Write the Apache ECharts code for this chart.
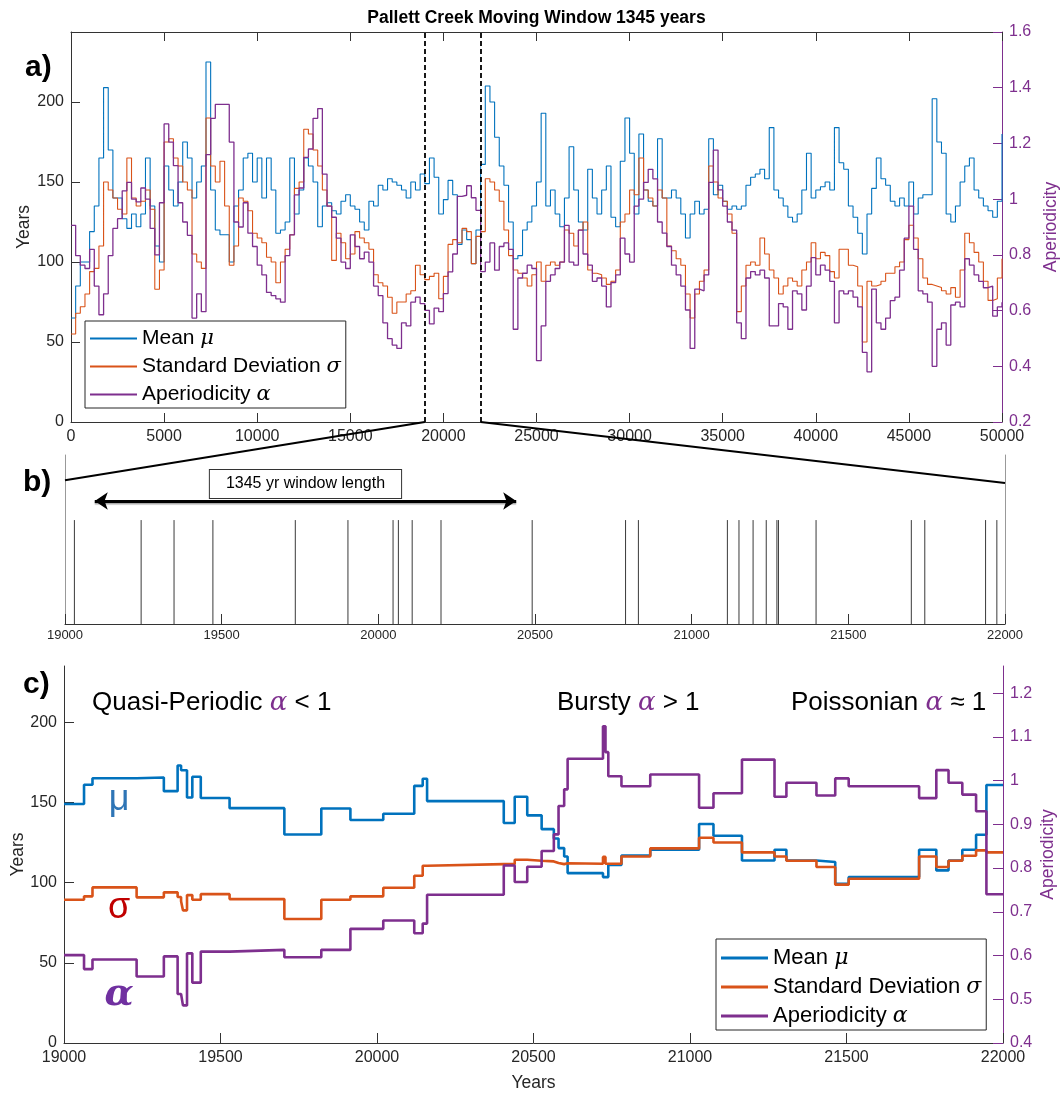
<!DOCTYPE html>
<html>
<head>
<meta charset="utf-8">
<script src="https://cdn.jsdelivr.net/npm/echarts/dist/echarts.min.js"></script>
<style>
  html, body { margin: 0; padding: 0; background: #fff; }
  #chart { width: 1061px; height: 1094px; }
</style>
</head>
<body>
<div id="chart"></div>
<script>
// ---------- Panel a: moving-window statistics over the whole record (one value every 250 yr) ----------
const aStartYear = 0;
const aStepYears = 250;
const aMean = [65, 85, 100, 100, 119, 135, 165, 209, 170, 140,
  140, 127, 121, 130, 122, 130, 165, 135, 110, 100,
  160, 145, 135, 150, 175, 165, 140, 150, 160, 225,
  145, 120, 117, 117, 100, 135, 145, 165, 168, 150,
  165, 140, 165, 145, 118, 120, 125, 165, 130, 145,
  165, 160, 150, 122, 135, 137, 132, 130, 138, 142,
  135, 133, 125, 120, 138, 135, 148, 145, 152, 150,
  148, 145, 140, 150, 145, 155, 149, 165, 153, 130,
  139, 151, 142, 111, 120, 114, 99, 120, 161, 210,
  200, 178, 160, 148, 125, 102, 104, 120, 125, 135,
  150, 193, 135, 145, 130, 122, 140, 172, 145, 125,
  120, 158, 140, 130, 145, 160, 128, 122, 163, 190,
  168, 130, 180, 145, 138, 135, 177, 140, 140, 145,
  140, 130, 115, 130, 138, 130, 133, 177, 142, 148,
  138, 133, 135, 133, 135, 148, 153, 155, 158, 152,
  184, 145, 140, 135, 128, 125, 130, 145, 168, 140,
  145, 147, 150, 145, 184, 162, 158, 135, 128, 118,
  105, 130, 146, 165, 152, 148, 138, 135, 140, 135,
  150, 130, 140, 142, 142, 202, 175, 168, 130, 125,
  135, 150, 160, 165, 145, 140, 135, 132, 128, 138,
  180];
const aStd = [55, 68, 72, 80, 94, 96, 110, 150, 145, 140,
  133, 130, 165, 140, 135, 138, 145, 133, 83, 95,
  175, 177, 165, 160, 150, 145, 105, 100, 96, 190,
  160, 150, 163, 135, 98, 110, 140, 138, 132, 118,
  115, 112, 103, 100, 87, 100, 108, 117, 146, 150,
  183, 180, 170, 160, 145, 135, 101, 118, 112, 102,
  105, 119, 115, 112, 108, 92, 87, 85, 78, 68,
  75, 75, 80, 82, 98, 92, 89, 91, 93, 77,
  91, 111, 114, 112, 121, 119, 99, 116, 119, 152,
  150, 145, 138, 120, 104, 95, 93, 90, 85, 92,
  100, 88, 98, 100, 98, 100, 120, 118, 110, 120,
  125, 95, 93, 92, 90, 86, 88, 95, 125, 130,
  145, 142, 165, 145, 140, 135, 145, 140, 110, 107,
  102, 98, 80, 65, 80, 88, 95, 160, 150, 140,
  138, 130, 118, 69, 85, 98, 100, 98, 115, 105,
  95, 90, 80, 85, 90, 88, 85, 95, 100, 112,
  102, 106, 104, 94, 90, 108, 108, 98, 97, 85,
  50, 88, 85, 86, 88, 93, 93, 97, 100, 114,
  123, 115, 102, 90, 86, 85, 84, 82, 80, 84,
  78, 95, 118, 112, 106, 100, 88, 76, 77, 90,
  102];
const aAlpha = [0.906, 0.797, 0.763, 0.751, 0.82, 0.688, 0.585, 0.66, 0.797, 0.895,
  0.93, 1.03, 1.06, 1.0, 0.99, 1.04, 1.0, 0.895, 0.8, 0.987,
  1.27, 1.205, 1.12, 0.987, 0.918, 0.87, 0.573, 0.66, 0.596, 1.16,
  1.29, 1.34, 1.34, 1.34, 1.205, 0.918, 0.9, 0.987, 0.878, 0.83,
  0.763, 0.728, 0.665, 0.654, 0.642, 0.63, 0.797, 0.872, 1.015, 1.04,
  1.15, 1.18, 1.29, 1.325, 1.09, 0.975, 0.935, 0.86, 0.774, 0.751,
  0.872, 0.83, 0.786, 0.81, 0.774, 0.688, 0.654, 0.556, 0.499, 0.476,
  0.464, 0.556, 0.545, 0.63, 0.648, 0.625, 0.601, 0.552, 0.609, 0.596,
  0.661, 0.739, 0.803, 1.01, 1.014, 1.048, 1.005, 0.96, 0.74, 0.774,
  0.843, 0.745, 0.83, 0.843, 0.82, 0.533, 0.717, 0.734, 0.763, 0.751,
  0.42, 0.545, 0.705, 0.728, 0.751, 0.774, 0.906, 0.774, 0.763, 0.889,
  0.803, 0.763, 0.705, 0.717, 0.688, 0.613, 0.7, 0.728, 0.86, 0.803,
  0.774, 0.975, 1.0, 1.06, 1.107, 1.073, 0.918, 0.878, 0.83, 0.763,
  0.728, 0.688, 0.602, 0.464, 0.677, 0.671, 0.728, 1.06, 1.176, 1.033,
  0.975, 0.918, 0.889, 0.556, 0.499, 0.717, 0.74, 0.728, 0.745, 0.717,
  0.545, 0.545, 0.625, 0.613, 0.533, 0.671, 0.66, 0.602, 0.688, 0.79,
  0.728, 0.763, 0.745, 0.705, 0.556, 0.671, 0.66, 0.671, 0.648, 0.613,
  0.45, 0.38, 0.677, 0.556, 0.533, 0.573, 0.636, 0.648, 0.745, 0.86,
  0.975, 0.82, 0.671, 0.66, 0.63, 0.4, 0.533, 0.556, 0.476, 0.62,
  0.63, 0.613, 0.786, 0.763, 0.728, 0.705, 0.682, 0.688, 0.58, 0.613,
  0.63];

// ---------- Window examined in panels b and c ----------
const windowStart = 19000;
const windowEnd = 22000;
const windowLengthYears = 1345;
const arrowStartYear = 19095;

// ---------- Panel b: event dates inside the window ----------
const events = [19030, 19243, 19348, 19472, 19735, 19903, 20047, 20064, 20108, 20200,
  20491, 20789, 20830, 21114, 21151, 21196, 21238, 21272, 21277, 21397,
  21701, 21744, 21938, 21974];

// ---------- Panel c: statistics at each change point (held until the next one) ----------
const cYears = [19000, 19064, 19091, 19232, 19319, 19363, 19374, 19380, 19393, 19410,
  19437, 19529, 19704, 19822, 19915, 20020, 20119, 20146, 20160, 20405,
  20440, 20480, 20526, 20565, 20580, 20598, 20609, 20722, 20730, 20739,
  20781, 20873, 21029, 21075, 21166, 21270, 21308, 21404, 21464, 21507,
  21732, 21787, 21826, 21870, 21914, 21947, 22000];
const cMean = [149, 161, 165, 165.5, 157, 173, 170, 170, 153, 166,
  152.7, 146.4, 130, 146.2, 139, 142.9, 160.3, 164.7, 150.8, 137.1,
  153.5, 141.9, 133.3, 127.5, 121.5, 116.3, 105.9, 103.4, 103.4, 111,
  116.9, 120.5, 136.5, 129.2, 113.8, 120.5, 113.8, 112.8, 99.3, 103.4,
  120.5, 107.6, 113.8, 120.5, 129.8, 160.8, 160.8];
const cStd = [89.3, 91.4, 97.0, 90.8, 93.9, 91.0, 88.3, 82.7, 92.2, 89.3,
  92.8, 89.7, 77.3, 89.3, 91.4, 96.8, 104.3, 110.5, 111.5, 111.5,
  114.2, 113.6, 113.2, 112.2, 111.5, 112.0, 111.7, 116.0, 111.7, 111.7,
  116.3, 121.3, 127.9, 125.0, 118.8, 116.3, 113.6, 109.7, 98.7, 102.4,
  116.3, 109.7, 113.6, 116.7, 120.1, 118.8, 118.8];
const cAlpha = [0.601, 0.569, 0.591, 0.552, 0.598, 0.512, 0.512, 0.486, 0.605, 0.538,
  0.609, 0.613, 0.596, 0.613, 0.661, 0.680, 0.651, 0.673, 0.739, 0.806,
  0.768, 0.803, 0.839, 0.877, 0.942, 0.980, 1.050, 1.124, 1.065, 1.010,
  0.987, 1.014, 0.938, 0.971, 1.048, 0.963, 0.995, 0.966, 1.005, 0.987,
  0.960, 1.024, 0.995, 0.968, 0.930, 0.740, 0.740];

// ---------- Styling ----------
const SANS = "'Liberation Sans', Arial, Helvetica, sans-serif";
const GREEK = "'DejaVu Serif', 'Liberation Serif', serif";
const BLUE = '#0072BD', ORANGE = '#D95319', PURPLE = '#7E2F8E';
const TXT = '#262626', AXIS_LINE = '#333333';
const EVENT_TOP = 0.615;   // event bar height in panel b (fraction of its box)
const ARROW_Y = 0.728;      // height of the window-length arrow in panel b

const NAMES = ['Mean μ', 'Standard Deviation σ', 'Aperiodicity α'];
const RICH_NAMES = {
  'Mean μ': '{t|Mean }{g|μ}',
  'Standard Deviation σ': '{t|Standard Deviation }{g|σ}',
  'Aperiodicity α': '{t|Aperiodicity }{g|α}'
};

const aYears = aMean.map((_, i) => aStartYear + i * aStepYears);
const pairs = (xs, ys) => xs.map((x, i) => [x, ys[i]]);
const fmt1 = v => String(Math.round(v * 10) / 10);
const plain = v => String(v);

function xAxisBase(grid, min, max, interval) {
  return {
    type: 'value', gridIndex: grid, min: min, max: max, interval: interval,
    axisLine: { show: true, onZero: false, lineStyle: { color: AXIS_LINE, width: 1 } },
    axisTick: { show: true, inside: true, length: 9, lineStyle: { color: AXIS_LINE } },
    axisLabel: { show: true, fontSize: 16, color: TXT, margin: 7, fontFamily: SANS,
      hideOverlap: false, formatter: plain },
    splitLine: { show: false },
    nameMoveOverlap: false
  };
}
function yAxisBase(grid, pos, min, max, interval, color) {
  return {
    type: 'value', gridIndex: grid, position: pos, min: min, max: max, interval: interval,
    axisLine: { show: true, onZero: false, lineStyle: { color: color, width: 1 } },
    axisTick: { show: true, inside: true, length: 9, lineStyle: { color: color } },
    axisLabel: { show: true, fontSize: 16, color: color === AXIS_LINE ? TXT : color, margin: 7,
      fontFamily: SANS, showMaxLabel: false, hideOverlap: false, formatter: plain },
    splitLine: { show: false },
    nameLocation: 'middle', nameRotate: 90, nameMoveOverlap: false,
    nameTextStyle: { fontSize: 17.5, color: color === AXIS_LINE ? TXT : color, fontFamily: SANS }
  };
}

const xa = xAxisBase(0, 0, 50000, 5000);
const xaTop = xAxisBase(0, 0, 50000, 5000);
xaTop.position = 'top';
xaTop.axisLabel = { show: false };
const xb = xAxisBase(1, windowStart, windowEnd, 500);
xb.axisTick.length = 10;
xb.axisLabel.fontSize = 13;
xb.axisLabel.margin = 5;
const xc = xAxisBase(2, windowStart, windowEnd, 500);
xc.axisTick.length = 10;
xc.name = 'Years';
xc.nameLocation = 'middle';
xc.nameGap = 31;
xc.nameTextStyle = { fontSize: 17.5, color: TXT, fontFamily: SANS };

const ya = yAxisBase(0, 'left', 0, 243.75, 50, AXIS_LINE);
ya.name = 'Years'; ya.nameGap = 38;
const yaR = yAxisBase(0, 'right', 0.2, 1.6, 0.2, PURPLE);
yaR.name = 'Aperiodicity'; yaR.nameGap = 40;
yaR.axisLabel.formatter = fmt1;
yaR.axisLabel.showMaxLabel = true;
const ybL = {
  type: 'value', gridIndex: 1, position: 'left', min: 0, max: 1,
  axisLine: { show: true, onZero: false, lineStyle: { color: '#999' } },
  axisTick: { show: false }, axisLabel: { show: false }, splitLine: { show: false }
};
const ybR = Object.assign({}, ybL, { position: 'right' });
const yc = yAxisBase(2, 'left', 0, 235, 50, AXIS_LINE);
yc.name = 'Years'; yc.nameGap = 37;
yc.axisTick.length = 10;
const ycR = yAxisBase(2, 'right', 0.4, 1.262, 0.1, PURPLE);
ycR.name = 'Aperiodicity'; ycR.nameGap = 36;
ycR.axisLabel.formatter = fmt1;
ycR.axisTick.length = 10;

function lineSeries(name, xi, yi, data, color, width, extra) {
  return Object.assign({
    name: name, type: 'line', xAxisIndex: xi, yAxisIndex: yi, data: data,
    step: 'end', showSymbol: false, symbol: 'none', animation: false,
    lineStyle: { color: color, width: width }, itemStyle: { color: color },
    emphasis: { disabled: true }
  }, extra || {});
}

function legendFor(left, top, fontSize, iconH, gap, pad) {
  return {
    data: NAMES, orient: 'vertical', left: left, top: top, padding: pad,
    itemWidth: 47, itemHeight: iconH, itemGap: gap, icon: 'rect',
    backgroundColor: '#fff', borderColor: '#262626', borderWidth: 1, borderRadius: 0,
    selectedMode: false,
    formatter: n => RICH_NAMES[n],
    textStyle: {
      color: '#000', fontSize: fontSize, fontFamily: SANS,
      rich: {
        t: { fontSize: fontSize, fontFamily: SANS, color: '#000' },
        g: { fontSize: fontSize, fontFamily: GREEK, fontStyle: 'italic', color: '#000' }
      }
    }
  };
}

const option = {
  animation: false,
  backgroundColor: '#fff',
  grid: [
    { left: 71, top: 32, width: 931, height: 390, containLabel: false, outerBoundsMode: 'none' },
    { left: 65, top: 455, width: 940, height: 169, containLabel: false, outerBoundsMode: 'none' },
    { left: 64, top: 666, width: 939, height: 377, containLabel: false, outerBoundsMode: 'none' }
  ],
  xAxis: [xa, xaTop, xb, xc],
  yAxis: [ya, yaR, ybL, ybR, yc, ycR],
  legend: [
    legendFor(85, 321, 21, 2, 7, [7, 5, 3, 5]),
    legendFor(716, 939, 22, 3, 7, [8, 5, 3, 5])
  ],
  series: [
    lineSeries(NAMES[0], 0, 0, pairs(aYears, aMean), BLUE, 1.1, {
      markLine: {
        silent: true, symbol: ['none', 'none'], animation: false,
        label: { show: false },
        lineStyle: { color: '#000', type: [5, 3], width: 1.8 },
        data: [{ xAxis: windowStart }, { xAxis: windowEnd }]
      }
    }),
    lineSeries(NAMES[1], 0, 0, pairs(aYears, aStd), ORANGE, 1.1),
    lineSeries(NAMES[2], 0, 1, pairs(aYears, aAlpha), PURPLE, 1.3),
    {
      type: 'custom', xAxisIndex: 2, yAxisIndex: 2, animation: false, silent: true,
      data: events.map(t => [t, 0]),
      encode: { x: 0, y: 1 },
      renderItem: (params, api) => {
        const t = api.value(0);
        const p0 = api.coord([t, 0]);
        const p1 = api.coord([t, EVENT_TOP]);
        return {
          type: 'line',
          shape: { x1: p0[0], y1: p0[1], x2: p1[0], y2: p1[1] },
          style: { stroke: '#3a3a3a', lineWidth: 1 }
        };
      },
      markLine: {
        silent: true, animation: false,
        symbol: ['arrow', 'arrow'], symbolSize: 13,
        lineStyle: { color: '#000', width: 3, type: 'solid',
          shadowColor: 'rgba(0,0,0,0.35)', shadowOffsetY: 1.5, shadowBlur: 1 },
        label: {
          show: true, position: 'insideMiddleTop', distance: 3,
          formatter: windowLengthYears + ' yr window length',
          fontSize: 16, fontFamily: SANS, color: '#000',
          backgroundColor: '#fff', borderColor: '#333', borderWidth: 1,
          padding: [6, 16]
        },
        data: [[{ coord: [arrowStartYear, ARROW_Y] },
                { coord: [arrowStartYear + windowLengthYears, ARROW_Y] }]]
      }
    },
    lineSeries(NAMES[0], 3, 4, pairs(cYears, cMean), BLUE, 2.6),
    lineSeries(NAMES[1], 3, 4, pairs(cYears, cStd), ORANGE, 2.6),
    lineSeries(NAMES[2], 3, 5, pairs(cYears, cAlpha), PURPLE, 2.6)
  ]
};

const chart = echarts.init(document.getElementById('chart'), null, { renderer: 'canvas' });
chart.setOption(option);

// Zoom guides: from the window edges on panel a down to the corners of panel b
const pa0 = chart.convertToPixel({ xAxisIndex: 0, yAxisIndex: 0 }, [windowStart, 0]);
const pa1 = chart.convertToPixel({ xAxisIndex: 0, yAxisIndex: 0 }, [windowEnd, 0]);
const pb0 = chart.convertToPixel({ xAxisIndex: 2, yAxisIndex: 2 }, [windowStart, 0.85]);
const pb1 = chart.convertToPixel({ xAxisIndex: 2, yAxisIndex: 2 }, [windowEnd, 0.835]);

function txt(id, x, y, text, font, color, align) {
  return {
    type: 'text', id: id, x: x, y: y, z: 50, silent: true,
    style: { text: text, font: font, fill: color,
      textAlign: align || 'left', textVerticalAlign: 'middle' }
  };
}
function richTxt(id, x, y, parts, size) {
  return {
    type: 'text', id: id, x: x, y: y, z: 50, silent: true,
    style: {
      text: parts, textAlign: 'left', textVerticalAlign: 'middle',
      rich: {
        t: { fontSize: size, fontFamily: SANS, fill: '#000', color: '#000' },
        g: { fontSize: size, fontFamily: GREEK, fontStyle: 'italic', fill: PURPLE, color: PURPLE }
      }
    }
  };
}

chart.setOption({
  graphic: [
    txt('title', 536.5, 18, 'Pallett Creek Moving Window ' + windowLengthYears + ' years',
      'bold 17.5px ' + SANS, '#000', 'center'),
    txt('lab-a', 25, 68, 'a)', 'bold 30px ' + SANS, '#000'),
    txt('lab-b', 23, 483, 'b)', 'bold 30px ' + SANS, '#000'),
    txt('lab-c', 23, 685, 'c)', 'bold 30px ' + SANS, '#000'),
    richTxt('ann-qp', 92, 703, '{t|Quasi-Periodic }{g|α}{t| < 1}', 26),
    richTxt('ann-bu', 557, 703, '{t|Bursty }{g|α}{t| > 1}', 26),
    richTxt('ann-po', 791, 703, '{t|Poissonian }{g|α}{t| ≈ 1}', 26),
    txt('sym-mu', 119, 800, 'μ', '36px ' + SANS, '#2E75B6', 'center'),
    txt('sym-sigma', 119, 908, 'σ', '36px ' + SANS, '#C00000', 'center'),
    txt('sym-alpha', 119, 995, 'α', 'italic bold 38px ' + GREEK, '#7030A0', 'center'),
    {
      type: 'line', id: 'guide-left', z: 40, silent: true,
      shape: { x1: pa0[0], y1: pa0[1], x2: pb0[0], y2: pb0[1] },
      style: { stroke: '#000', lineWidth: 2 }
    },
    {
      type: 'line', id: 'guide-right', z: 40, silent: true,
      shape: { x1: pa1[0], y1: pa1[1], x2: pb1[0], y2: pb1[1] },
      style: { stroke: '#000', lineWidth: 2 }
    }
  ]
});
</script>
</body>
</html>
